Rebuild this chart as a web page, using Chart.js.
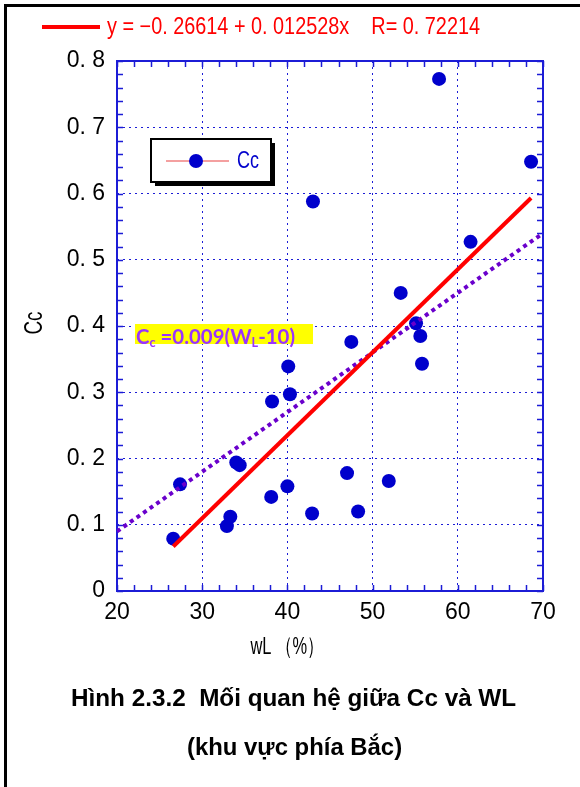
<!DOCTYPE html>
<html>
<head>
<meta charset="utf-8">
<script src="https://cdn.jsdelivr.net/npm/chart.js@4.4.0/dist/chart.umd.min.js"></script>
<style>
  body { margin: 0; background: #fff; }
  #wrap { position: relative; width: 580px; height: 787px; overflow: hidden; background: #fff; }
  #frame { position: absolute; left: 4px; top: 4px; width: 700px; height: 900px; border: 3px solid #000; }
  canvas { position: absolute; left: 0; top: 0; }
  .cap { position: absolute; font: bold 24px "Liberation Sans", Arial, sans-serif; line-height: 28px; white-space: nowrap; color: #000; transform-origin: left center; }
</style>
</head>
<body>
<div id="wrap">
  <div id="frame"></div>
  <canvas id="chart" width="580" height="787"></canvas>
  <span class="cap" id="cap1" style="left:71px; top:684px;">Hình 2.3.2&nbsp; Mối quan hệ giữa Cc và WL</span>
  <span class="cap" id="cap2" style="left:187px; top:733px;">(khu vực phía Bắc)</span>
</div>
<script>
// measured points: liquid limit wL (%) vs compression index Cc
const wL = [26.6, 27.4, 32.9, 33.3, 34.0, 34.4, 38.1, 38.2, 40.0, 40.1, 40.3, 42.9,
            43.0, 47.0, 47.5, 48.3, 51.9, 53.3, 55.1, 55.6, 55.8, 57.8, 61.5, 68.6];
const Cc = [0.079, 0.161, 0.098, 0.112, 0.194, 0.190, 0.142, 0.286, 0.158, 0.339, 0.297, 0.117,
            0.588, 0.178, 0.376, 0.120, 0.166, 0.450, 0.404, 0.385, 0.343, 0.773, 0.527, 0.648];

// linear fit y = a + b x
const fitCoef = [-0.26614, 0.012528];
const fitR = 0.72214;

// empirical relation Cc = 0.009 (wL - 10)
const empCoef = [0.009, 10];
const empRange = [20, 70];

const xTicks = [20, 30, 40, 50, 60, 70];
const yTicks = [0, 0.1, 0.2, 0.3, 0.4, 0.5, 0.6, 0.7, 0.8];

const BLUE = '#1c1cd6';
const DOT = '#0000cc';

const pts = wL.map((x, i) => ({ x: x, y: Cc[i] }));
const xMin = Math.min(...wL), xMax = Math.max(...wL);
const fitLine = [xMin, xMax].map(x => ({ x: x, y: fitCoef[0] + fitCoef[1] * x }));
const empLine = empRange.map(x => ({ x: x, y: empCoef[0] * (x - empCoef[1]) }));

const fmt = v => (v < 0 ? '\u2212' : '') + Math.abs(v).toString().replace('.', '. ');

function fitText(ctx, text, x, y, w, align) {
  const m = ctx.measureText(text).width;
  ctx.save();
  ctx.translate(x, y);
  ctx.scale(w / m, 1);
  ctx.textAlign = align || 'left';
  ctx.fillText(text, 0, 0);
  ctx.restore();
}

// frame + inner minor ticks
const axisDecor = {
  id: 'axisDecor',
  beforeDatasetsDraw(chart) {
    const { ctx, chartArea: a, scales: { x, y } } = chart;
    ctx.save();
    ctx.strokeStyle = BLUE;
    ctx.lineWidth = 1.5;
    ctx.beginPath();
    for (let v = xTicks[0]; v <= xTicks[xTicks.length - 1]; v += 2) {
      const px = Math.round(x.getPixelForValue(v)) + 0.5;
      ctx.moveTo(px, a.bottom); ctx.lineTo(px, a.bottom - 6);
      ctx.moveTo(px, a.top); ctx.lineTo(px, a.top + 6);
    }
    for (let i = 0; i <= 40; i++) {
      const py = Math.round(y.getPixelForValue(i * 0.02)) + 0.5;
      ctx.moveTo(a.left, py); ctx.lineTo(a.left + 6, py);
      ctx.moveTo(a.right, py); ctx.lineTo(a.right - 6, py);
    }
    ctx.stroke();
    ctx.lineWidth = 2;
    ctx.strokeRect(a.left, a.top, a.right - a.left, a.bottom - a.top);
    ctx.restore();
  },
  afterDraw(chart) {
    const { ctx } = chart;
    ctx.save();
    ctx.textBaseline = 'middle';

    // top legend: regression line
    ctx.strokeStyle = '#ff0000';
    ctx.lineWidth = 4;
    ctx.beginPath(); ctx.moveTo(42, 27); ctx.lineTo(100, 27); ctx.stroke();
    ctx.fillStyle = '#ff0000';
    ctx.font = '23px "Liberation Sans", Arial, sans-serif';
    const eq = 'y = ' + fmt(fitCoef[0]) + ' + ' + fmt(fitCoef[1]) + 'x    R= ' + fmt(fitR);
    fitText(ctx, eq, 107, 28, 373);

    // inset legend box
    ctx.fillStyle = '#000';
    ctx.fillRect(155, 143, 120, 43);
    ctx.fillStyle = '#fff';
    ctx.fillRect(151, 139, 120, 43);
    ctx.strokeStyle = '#000';
    ctx.lineWidth = 2;
    ctx.strokeRect(151, 139, 120, 43);
    ctx.strokeStyle = '#f08080';
    ctx.lineWidth = 1.5;
    ctx.beginPath(); ctx.moveTo(166, 161); ctx.lineTo(229, 161); ctx.stroke();
    ctx.fillStyle = DOT;
    ctx.beginPath(); ctx.arc(196, 161, 7, 0, Math.PI * 2); ctx.fill();
    ctx.font = '23px "Liberation Sans", Arial, sans-serif';
    fitText(ctx, 'Cc', 237, 162, 22);

    // yellow annotation
    ctx.fillStyle = '#ffff00';
    ctx.fillRect(135, 324, 178, 20);
    const main = 'bold 21px Lato, "Open Sans", sans-serif';
    const sub = 'bold 13px Lato, "Open Sans", sans-serif';
    const parts = [['C', main, 0], ['c', sub, 3], [' =0.009(W', main, 0], ['L', sub, 3], ['-10)', main, 0]];
    let tot = 0;
    parts.forEach(p => { ctx.font = p[1]; tot += ctx.measureText(p[0]).width; });
    const k = 159 / tot;
    ctx.fillStyle = '#9933ff';
    ctx.textBaseline = 'alphabetic';
    ctx.translate(136, 0);
    ctx.scale(k, 1);
    let cx = 0;
    parts.forEach(p => {
      ctx.font = p[1];
      ctx.fillText(p[0], cx, 344 + p[2]);
      cx += ctx.measureText(p[0]).width;
    });
    ctx.restore();

    // axis titles
    ctx.save();
    ctx.fillStyle = '#000';
    ctx.textBaseline = 'middle';
    ctx.font = '24px "Liberation Sans", Arial, sans-serif';
    fitText(ctx, 'wL \uFF08%\uFF09', 287, 647, 73, 'center');
    ctx.translate(35, 323);
    ctx.rotate(-Math.PI / 2);
    ctx.font = '25px "Liberation Sans", Arial, sans-serif';
    fitText(ctx, 'Cc', 0, 0, 23, 'center');
    ctx.restore();
  }
};

new Chart(document.getElementById('chart'), {
  type: 'scatter',
  data: {
    datasets: [
      { label: 'fit', data: fitLine, showLine: true, borderColor: '#ff0000', borderWidth: 4,
        pointRadius: 0, order: 0 },
      { label: 'emp', data: empLine, showLine: true, borderColor: '#6a00cc', borderWidth: 4,
        borderDash: [4, 4], borderCapStyle: 'butt', pointRadius: 0, order: 0 },
      { label: 'Cc', data: pts, pointRadius: 7, pointHoverRadius: 7, backgroundColor: DOT,
        borderWidth: 0, order: 1 }
    ]
  },
  options: {
    responsive: false,
    animation: false,
    devicePixelRatio: 1,
    layout: { padding: { top: 61, right: 37, left: 0, bottom: 0 } },
    plugins: { legend: { display: false }, tooltip: { enabled: false } },
    scales: {
      x: {
        type: 'linear', min: xTicks[0], max: xTicks[xTicks.length - 1],
        afterBuildTicks: s => { s.ticks = xTicks.map(v => ({ value: v })); },
        afterFit: s => { s.height = 196; },
        ticks: { color: '#000', padding: 8, maxRotation: 0,
                 font: { family: '"Liberation Sans", Arial, sans-serif', size: 23 } },
        grid: { color: BLUE, lineWidth: 1, drawTicks: false },
        border: { display: false, dash: [2, 4] }
      },
      y: {
        type: 'linear', min: yTicks[0], max: yTicks[yTicks.length - 1],
        afterBuildTicks: s => { s.ticks = yTicks.map(v => ({ value: v })); },
        afterFit: s => { s.width = 117; },
        ticks: { color: '#000', padding: 12,
                 callback: v => v === 0 ? '0' : v.toFixed(1).replace('.', '. '),
                 font: { family: '"Liberation Sans", Arial, sans-serif', size: 23 } },
        grid: { color: BLUE, lineWidth: 1, drawTicks: false },
        border: { display: false, dash: [2, 4] }
      }
    }
  },
  plugins: [axisDecor]
});

// fit caption lines to the reference widths
[['cap1', 445], ['cap2', 215]].forEach(([id, w]) => {
  const el = document.getElementById(id);
  el.style.transform = 'scaleX(' + (w / el.offsetWidth) + ')';
});
</script>
</body>
</html>
